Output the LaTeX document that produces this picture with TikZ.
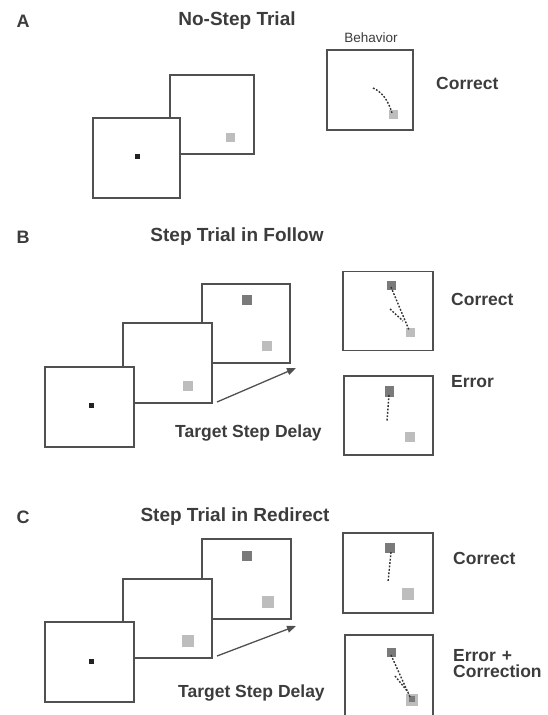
\documentclass[tikz,border=0pt]{standalone}
\usepackage{fontspec}
\setmainfont{Liberation Sans}
\usetikzlibrary{arrows.meta}
\definecolor{ink}{HTML}{3C3C3C}
\definecolor{frame}{HTML}{505050}
\definecolor{tgtdark}{HTML}{7A7A7A}
\definecolor{tgtlight}{HTML}{BDBDBD}
\definecolor{fixdot}{HTML}{222222}
\definecolor{trace}{HTML}{333333}
\begin{document}
\begin{tikzpicture}[x=1pt,y=-1pt,
  screen/.style 2 args={draw=frame, line width=1.5pt, fill=white, inner sep=0pt,
    minimum width=#1, minimum height=#2},
  spot/.style 2 args={fill=#1, inner sep=0pt, minimum size=#2},
  fixation/.style={spot={fixdot}{5pt}},
  panel/.style={text=ink, font=\bfseries\fontsize{18}{20}\selectfont, inner sep=0pt},
  title/.style={text=ink, font=\bfseries\fontsize{19}{21}\selectfont, inner sep=0pt},
  label/.style={text=ink, font=\bfseries\fontsize{17.5}{19}\selectfont, inner sep=0pt, anchor=west, align=left},
  path trace/.style={draw=trace, line width=1.4pt, dash pattern=on 1.8pt off 1.6pt},
  stepdelay/.style={draw=frame, line width=1.3pt, -{Triangle[length=9pt, width=7pt]}}]
\useasboundingbox (0,0) rectangle (548,715);

% ---------------- Panel A: no-step trial ----------------
\node[panel] (labA) at (23,21) {A};
\node[title] (titA) at (237,21) {No-Step Trial};
\node[screen={84pt}{79pt}] (a2) at (212,114.5) {};
\node[spot={tgtlight}{9pt}] (a2t) at (230,137) {};
\node[screen={87pt}{80pt}] (a1) at (136.5,158) {};
\node[fixation] (a1f) at (137,156) {};

\node[text=ink, font=\fontsize{13.5}{15}\selectfont, inner sep=0pt] (behav) at (371,38) {Behavior};
\node[screen={86pt}{80pt}] (ab) at (370,90) {};
\node[spot={tgtlight}{9pt}] (abt) at (393,114) {};
\draw[path trace] (373,88) .. controls (382,92) and (388,100) .. (392,113);
\node[label] (abc) at (436,83) {Correct};

% ---------------- Panel B: step trial in follow ----------------
\node[panel] (labB) at (23,237) {B};
\node[title] (titB) at (237,237) {Step Trial in Follow};
\node[screen={88pt}{79pt}] (b3) at (246,323.5) {};
\node[spot={tgtdark}{10pt}] (b3d) at (247,300) {};
\node[spot={tgtlight}{10pt}] (b3l) at (267,346) {};
\node[screen={89pt}{80pt}] (b2) at (167.5,363) {};
\node[spot={tgtlight}{10pt}] (b2t) at (188,386) {};
\node[screen={89pt}{80pt}] (b1) at (89.5,407) {};
\node[fixation] (b1f) at (91,405) {};
\coordinate (bTail) at (217,402);
\coordinate (bHead) at (296,368);
\draw[stepdelay] (bTail) -- (bHead);
\node[label] (bdelay) at (175,433) {Target Step Delay};

% follow: correct
\node[screen={90pt}{79pt}] (bc) at (388,311) {};
\node[spot={tgtdark}{9pt}] (bcd) at (391,285) {};
\node[spot={tgtlight}{9pt}] (bcl) at (410,332) {};
\draw[path trace] (391,287) -- (409,330);
\draw[path trace] (390,309) -- (403,321);
\node[label] (bcc) at (451,299) {Correct};

% follow: error
\node[screen={89pt}{79pt}] (be) at (388.5,415.5) {};
\node[spot={tgtdark}{9pt}, minimum height=11pt] (bed) at (389,391) {};
\node[spot={tgtlight}{10pt}] (bel) at (410,437) {};
\draw[path trace] (389,395) -- (387,421);
\node[label] (bec) at (451,382) {Error};

% ---------------- Panel C: step trial in redirect ----------------
\node[panel] (labC) at (23,517) {C};
\node[title] (titC) at (235,517) {Step Trial in Redirect};
\node[screen={89pt}{80pt}] (c3) at (246.5,579) {};
\node[spot={tgtdark}{10pt}] (c3d) at (247,556) {};
\node[spot={tgtlight}{12pt}] (c3l) at (268,602) {};
\node[screen={89pt}{79pt}] (c2) at (167.5,618.5) {};
\node[spot={tgtlight}{12pt}] (c2t) at (188,641) {};
\node[screen={89pt}{80pt}] (c1) at (89.5,662) {};
\node[fixation] (c1f) at (91,661) {};
\coordinate (cTail) at (217,656);
\coordinate (cHead) at (296,626);
\draw[stepdelay] (cTail) -- (cHead);
\node[label] (cdelay) at (178,693) {Target Step Delay};

% redirect: correct
\node[screen={90pt}{80pt}] (cc) at (388,573) {};
\node[spot={tgtdark}{10pt}] (ccd) at (390,548) {};
\node[spot={tgtlight}{12pt}] (ccl) at (408,594) {};
\draw[path trace] (391,552) -- (388,582);
\node[label] (ccc) at (453,558) {Correct};

% redirect: error followed by correction
\node[screen={88pt}{81pt}] (ce) at (389,675.5) {};
\node[spot={tgtdark}{9pt}] (ced) at (391,652) {};
\node[spot={tgtlight}{12pt}] (cel) at (412,700) {};
\node[spot={tgtdark}{6pt}] (cem) at (412,699) {};
\draw[path trace] (391,655) -- (410,697);
\draw[path trace] (395,676) -- (408,692);
\node[label] (cec) at (453,664) {Error\,\,+\\[-3pt]Correction};
\end{tikzpicture}
\end{document}
